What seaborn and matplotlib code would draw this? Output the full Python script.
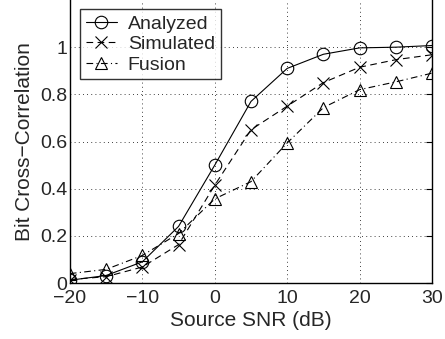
import numpy as np
import pandas as pd
import seaborn as sns
import matplotlib
matplotlib.use("Agg")
import matplotlib.pyplot as plt

snr = [-20, -15, -10, -5, 0, 5, 10, 15, 20, 25, 30]
analyzed = [0.012, 0.032, 0.09, 0.24, 0.50, 0.77, 0.91, 0.97, 0.997, 1.0, 1.007]
simulated = [0.015, 0.027, 0.068, 0.163, 0.415, 0.65, 0.75, 0.85, 0.915, 0.947, 0.968]
fusion = [0.04, 0.058, 0.117, 0.21, 0.357, 0.43, 0.594, 0.744, 0.82, 0.853, 0.89]

sns.set_style("white")
plt.rcParams['font.family'] = ['Liberation Sans', 'DejaVu Sans']

fig = plt.figure(figsize=(4.45, 3.39), dpi=100)
ax = fig.add_axes([0.157, 0.165, 0.814, 0.835])

mk = dict(markersize=9, markerfacecolor='none', markeredgecolor='k', markeredgewidth=0.8,
          color='k', linewidth=0.8)
sns.lineplot(x=snr, y=analyzed, ax=ax, marker='o', linestyle='-', label='Analyzed', **mk)
sns.lineplot(x=snr, y=simulated, ax=ax, marker='x', linestyle=(0, (6, 4)), label='Simulated', **mk)
sns.lineplot(x=snr, y=fusion, ax=ax, marker='^', linestyle=(0, (6, 3, 1, 3)), label='Fusion', **mk)

ax.set_xlim(-20, 30)
ax.set_ylim(0, 1.2)
ax.set_xticks([-20, -10, 0, 10, 20, 30])
ax.set_yticks([0, 0.2, 0.4, 0.6, 0.8, 1])
ax.set_yticklabels(['0', '0.2', '0.4', '0.6', '0.8', '1'])
ax.set_xticklabels(['\u221220', '\u221210', '0', '10', '20', '30'])
ax.grid(True, linestyle=(0, (1, 4)), color='k', linewidth=0.6)
ax.tick_params(direction='in', labelsize=14, length=4, color='k', right=True, pad=2)
ax.tick_params(axis='x', pad=5)
for s in ['left', 'bottom', 'right']:
    ax.spines[s].set_color('k')
    ax.spines[s].set_linewidth(1.0)
ax.spines['top'].set_visible(False)
ax.set_xlabel('Source SNR (dB)', fontsize=15, labelpad=3)
ax.set_ylabel('Bit Cross\u2212Correlation', fontsize=15, labelpad=4)

leg = ax.legend(loc='upper left', fontsize=14, frameon=True, fancybox=False,
                edgecolor='k', handlelength=1.6, borderpad=0.3, labelspacing=0.15,
                handletextpad=0.55, borderaxespad=0, bbox_to_anchor=(0.028, 0.968))
leg.get_frame().set_linewidth(1.0)

fig.savefig('out.png', dpi=100)
